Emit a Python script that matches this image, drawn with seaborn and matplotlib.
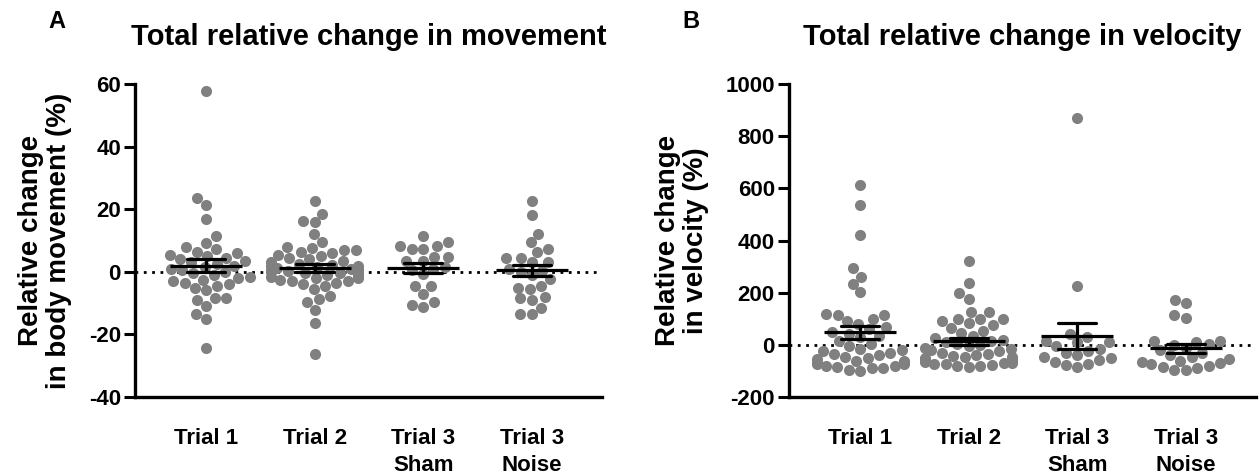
import matplotlib
matplotlib.use("Agg")
import matplotlib.pyplot as plt
import numpy as np
import pandas as pd
import seaborn as sns

# Categories
trials = ["Trial 1", "Trial 2", "Trial 3\nSham", "Trial 3\nNoise"]

# Panel A: relative change in body movement (%)
move_t1 = [57.7, 23.6, 21.4, 16.9, 11.4, 9.2, 7.9, -5.0, -5.9, -9.1, -8.5, -8.2,
           -11.0, -13.6, -14.9, -24.3,
           7.2, 6.5, 6.0, 5.5, 5.0, 4.5, 4.0, 3.5, 3.0, 2.5, 2.0, 1.5, 1.0, 0.5,
           0.0, -0.5, -1.0, -1.5, -2.0, -2.5, -3.0, -3.5, -4.0, -4.5]
move_t2 = [22.6, 18.6, 15.9, 16.2, 12.1, 9.5, -4.6, -5.5, -7.8, -8.7, -9.5,
           -12.2, -16.2, -26.2,
           8.0, 7.5, 7.0, 7.0, 6.5, 6.0, 5.5, 5.0, 4.5, 4.0,
           3.5, 3.0, 2.5, 2.0, 1.5, 1.0, 0.5, 0.0, 0.0, -0.5,
           -1.0, -1.0, -1.5, -2.0, -2.0, -2.5, -3.0, -3.0, -3.5, -4.0,
           1.2, 0.8, 2.2, 1.8, -0.2, 0.3]
move_sham = [11.5, 8.3, 8.3, 9.7, 7.3, 7.2, 4.9, 4.9, 3.5, 3.5, 1.5, 1.0, 0.5,
             -0.8, -4.4, -4.4, -7.0, -9.6, -11.2, -10.6]
move_noise = [22.6, 18.1, 12.2, 9.5, 7.3, 6.5, 4.4, 4.4, 3.3, 3.3, 0.3, 1.0, 0.0,
              -1.0, -2.3, -5.0, -5.5, -4.5, -8.0, -9.0, -8.5, -11.4, -13.5, -13.5]

# Panel B: relative change in velocity (%)
vel_t1 = [613, 538, 422, 294, 262, 233, 201, 115, 118,
          115, 100, 90, 80, 70, 60, 50, 40, 35, 30,
          15, 5, -5, -15, -20, -25,
          -30, -35, -40, -45, -50, -55, -60, -62, -65, -70, -72, -75, -80, -82,
          -85, -88, -90, -95, -100]
vel_t2 = [322, 236, 200, 176, 127, 127, 101, 101, 101,
          90, 85, 75, 65, 55, 45, 35, 25, 20, 10,
          15, 5, 0, -5, -10,
          -15, -20, -25, -30, -35, -40, -42, -45, -48, -50, -52, -55, -58, -60,
          -62, -65, -68, -70, -72, -75, -78, -80, -82, -85]
vel_sham = [869, 227, 43, 32, 12, 15, 10, -5, -15, -22, -30, -38, -45, -52, -58,
            -65, -72, -78, -84]
vel_noise = [162, 174, 104, 114, 16, 16, 10, 5, 0, -10, -20, -30, -40, -48, -55,
             -60, -65, -70, -75, -80, -85, -90, -95, -98]


def to_frame(groups):
    rows = []
    for name, vals in zip(trials, groups):
        rows += [(name, v) for v in vals]
    return pd.DataFrame(rows, columns=["trial", "value"])


df_move = to_frame([move_t1, move_t2, move_sham, move_noise])
df_vel = to_frame([vel_t1, vel_t2, vel_sham, vel_noise])

sns.set_style("ticks")
plt.rcParams["font.family"] = ["Liberation Sans", "DejaVu Sans"]
plt.rcParams["font.weight"] = "bold"
plt.rcParams["axes.labelweight"] = "bold"
plt.rcParams["axes.titleweight"] = "bold"
plt.rcParams["axes.unicode_minus"] = False
plt.rcParams["text.color"] = "black"
plt.rcParams["axes.labelcolor"] = "black"

fig = plt.figure(figsize=(12.6, 4.75), dpi=100)
ax_a = fig.add_axes([0.107, 0.164, 0.371, 0.659])
ax_b = fig.add_axes([0.626, 0.164, 0.371, 0.659])


def draw_panel(ax, df, title, ylabel, ylim, yticks):
    # zero reference line under the points
    ax.axhline(0, color="black", linestyle=(0, (1, 2)), linewidth=2, zorder=0.5)
    sns.swarmplot(data=df, x="trial", y="value", order=trials, color="#808080",
                  size=8, ax=ax, zorder=1, warn_thresh=1)
    # mean +/- SEM
    sns.pointplot(data=df, x="trial", y="value", order=trials, errorbar="se",
                  color="black", marker="_", markersize=52, markeredgewidth=2.3,
                  linestyle="none", capsize=0.35, err_kws={"linewidth": 2.3},
                  ax=ax, zorder=3)
    ax.set_xlim(-0.66, 3.65)
    ax.set_ylim(*ylim)
    ax.set_yticks(yticks)
    ax.set_xlabel("")
    ax.set_ylabel(ylabel, fontsize=20, labelpad=12, linespacing=1.1)
    ax.set_title(title, fontsize=21, pad=28)
    sns.despine(ax=ax)
    for side in ["left", "bottom"]:
        ax.spines[side].set_linewidth(2.4)
        ax.spines[side].set_color("black")
    ax.tick_params(axis="y", length=8, width=2.2, labelsize=16, pad=2, colors="black")
    ax.tick_params(axis="x", length=0, labelsize=16, pad=22, colors="black")
    for lab in ax.get_xticklabels():
        lab.set_linespacing(1.4)
        lab.set_verticalalignment("top")
    for lab in ax.get_xticklabels() + ax.get_yticklabels():
        lab.set_fontweight("bold")


draw_panel(ax_a, df_move, "Total relative change in movement",
           "Relative change\nin body movement (%)", (-40, 60), np.arange(-40, 61, 20))
draw_panel(ax_b, df_vel, "Total relative change in velocity",
           "Relative change\nin velocity (%)", (-200, 1000), np.arange(-200, 1001, 200))

fig.text(0.045, 0.955, "A", fontsize=17, fontweight="bold", ha="center", va="center")
fig.text(0.548, 0.955, "B", fontsize=17, fontweight="bold", ha="center", va="center")

fig.savefig("out.png", dpi=100)
